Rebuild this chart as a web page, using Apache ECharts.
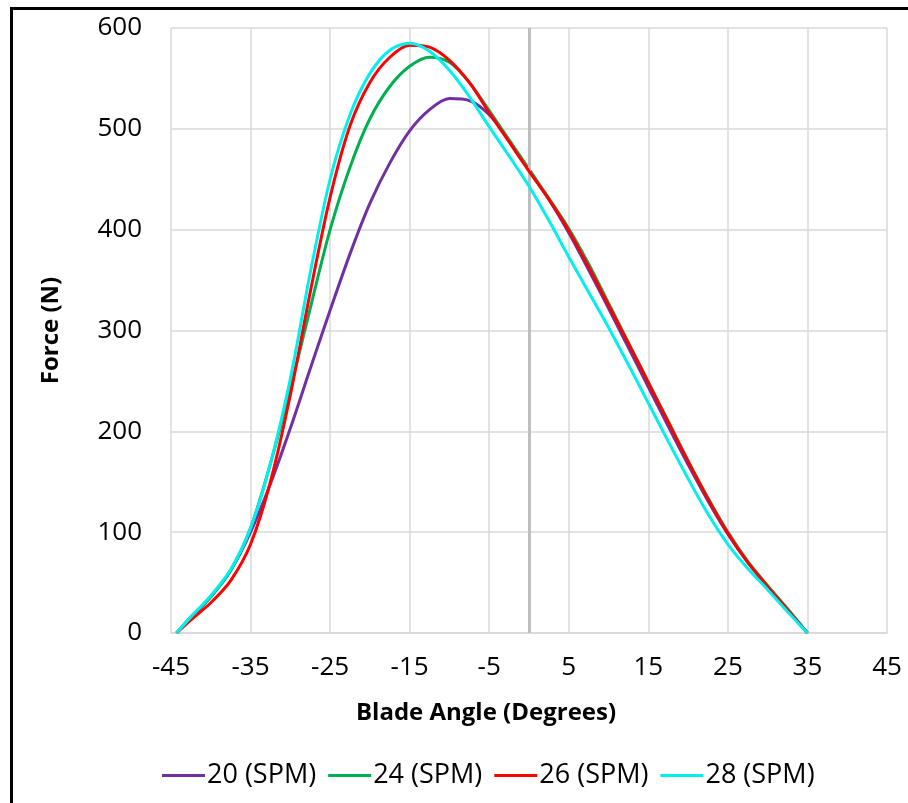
<!DOCTYPE html>
<html>
<head>
<meta charset="utf-8">
<script src="https://cdn.jsdelivr.net/npm/echarts@6/dist/echarts.min.js"></script>
<style>
  html, body { margin: 0; padding: 0; background: #fff; }
  #chart { width: 908px; height: 803px; }
</style>
</head>
<body>
<div id="chart"></div>
<script>
// 叶片角度 (x)
const angles = [-44.3, -42.5, -40, -37.5, -35, -32.5, -30, -27.5, -25, -22.5, -20, -17.5, -15, -12.5, -10, -7.5, -5, -2.5,
  0, 2.5, 5, 7.5, 10, 12.5, 15, 17.5, 20, 22.5, 25, 27.5, 30, 32.5, 35]

// 各转速下的力 (N)
const spm20 = [0, 15, 36, 62, 100, 148, 203, 262, 320, 376, 426, 466, 498, 519, 530, 528, 514, 488,
  459, 430, 397, 360, 322, 283, 244, 205, 167, 131, 98, 70, 46, 23, 0]
const spm24 = [0, 16, 36, 62, 104, 168, 242, 322, 400, 462, 510, 542, 562, 571, 566, 546, 518, 489,
  460, 431, 401, 366, 327, 288, 249, 210, 171, 134, 100, 71, 47, 24, 0]
const spm26 = [0, 13, 30, 52, 88, 150, 236, 338, 432, 503, 546, 571, 583, 581, 568, 546, 516, 487,
  458, 430, 399, 363, 325, 287, 248, 209, 170, 133, 99, 70, 46, 23, 0]
const spm28 = [0, 16, 37, 63, 104, 168, 252, 357, 450, 514, 555, 578, 585, 577, 558, 532, 502, 473,
  443, 409, 373, 338, 303, 266, 228, 190, 153, 118, 88, 64, 43, 21, 0]

const seriesNames = ['20 (SPM)', '24 (SPM)', '26 (SPM)', '28 (SPM)']
const seriesValues = [spm20, spm24, spm26, spm28]
const colors = ['#7030a0', '#00b050', '#ff0000', '#00f0f0']

const xTicks = { min: -45, max: 45, interval: 10 }
const yTicks = { min: 0, max: 600, interval: 100 }

const font = '"Open Sans", "Noto Sans", sans-serif'

const chart = echarts.init(document.getElementById('chart'), null, { renderer: 'canvas' })

// 组合数据
const series = seriesNames.map((name, i) => ({
  name: name,
  type: 'line',
  smooth: 0.3,
  showSymbol: false,
  data: angles.map((a, j) => [a, seriesValues[i][j]]),
  lineStyle: { color: colors[i], width: 3 },
  itemStyle: { color: colors[i] },
  z: 3 + i
}))

// x = 0 处的竖线
series[0].markLine = {
  silent: true,
  symbol: 'none',
  label: { show: false },
  lineStyle: { color: '#bfbfbf', width: 3, type: 'solid' },
  data: [{ xAxis: 0 }]
}

const option = {
  animation: false,
  backgroundColor: '#fff',
  textStyle: { fontFamily: font },
  graphic: [{
    type: 'rect',
    shape: { x: 11.5, y: 8.5, width: 2000, height: 2000 },
    style: { fill: 'none', stroke: '#000', lineWidth: 3 },
    silent: true
  }],
  grid: { left: 171, right: 21, top: 28, bottom: 170 },
  legend: {
    data: seriesNames,
    left: 157,
    top: 757,
    icon: 'rect',
    itemWidth: 43,
    itemHeight: 3,
    itemGap: 12,
    textStyle: { fontSize: 27, color: '#000', fontFamily: font, padding: [0, 0, 0, -3] }
  },
  xAxis: {
    type: 'value',
    min: xTicks.min,
    max: xTicks.max,
    interval: xTicks.interval,
    name: 'Blade Angle (Degrees)',
    nameLocation: 'middle',
    nameGap: 68,
    nameTextStyle: { fontSize: 24, fontWeight: 'bold', color: '#000', fontFamily: font, padding: [0, 86, 0, 0] },
    axisLine: { show: true, onZero: false, lineStyle: { color: '#d9d9d9', width: 1.5 } },
    axisTick: { show: false },
    axisLabel: { fontSize: 26, color: '#000', margin: 22, fontFamily: font },
    splitLine: { show: true, lineStyle: { color: '#d9d9d9', width: 1.5 } }
  },
  yAxis: {
    type: 'value',
    min: yTicks.min,
    max: yTicks.max,
    interval: yTicks.interval,
    name: 'Force (N)',
    nameLocation: 'middle',
    nameGap: 108,
    nameTextStyle: { fontSize: 24, fontWeight: 'bold', color: '#000', fontFamily: font },
    axisLine: { show: false },
    axisTick: { show: false },
    axisLabel: { fontSize: 26, color: '#000', margin: 29, fontFamily: font },
    splitLine: { show: true, lineStyle: { color: '#d9d9d9', width: 1.5 } }
  },
  series: series
}

chart.setOption(option)

window.addEventListener('resize', () => {
  chart.resize()
})
</script>
</body>
</html>
